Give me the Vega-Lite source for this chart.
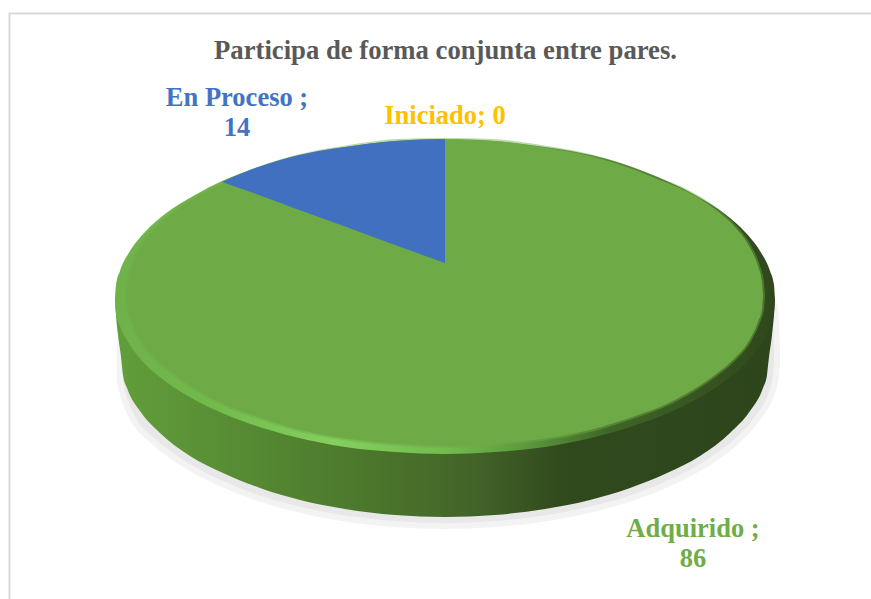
{"$schema":"https://vega.github.io/schema/vega-lite/v6.json","width":871,"height":529,"autosize":{"type":"none"},"padding":{"left":0,"top":70,"right":0,"bottom":0},"background":"#ffffff","view":{"stroke":null},
"title":{"text":"Participa de forma conjunta entre pares.","font":"Liberation Serif","fontSize":26.7,"fontWeight":"bold","color":"#595959","anchor":"middle","dx":10,"offset":-55.5},
"datasets":{
"marco":[{"x":9.5,"y":599,"i":1},{"x":9.5,"y":13.5,"i":2},{"x":871,"y":13.5,"i":3}],
"sombra":[{"x":120,"y":345,"y2":382},{"x":124,"y":305,"y2":398},{"x":133,"y":299,"y2":419},{"x":153,"y":299,"y2":441},{"x":184,"y":299,"y2":464},{"x":218,"y":299,"y2":482},{"x":255,"y":299,"y2":497},{"x":297,"y":299,"y2":509},{"x":342,"y":299,"y2":518},{"x":394,"y":299,"y2":524},{"x":445,"y":299,"y2":526},{"x":496,"y":299,"y2":524},{"x":548,"y":299,"y2":518},{"x":593,"y":299,"y2":509},{"x":635,"y":299,"y2":497},{"x":672,"y":299,"y2":482},{"x":706,"y":299,"y2":464},{"x":737,"y":299,"y2":441},{"x":757,"y":299,"y2":419},{"x":771,"y":299,"y2":395},{"x":775,"y":310,"y2":382},{"x":777,"y":345,"y2":364}],
"lateral":[{"x":115,"y":299,"y2":299},{"x":116,"y":299,"y2":315},{"x":118,"y":299,"y2":335},{"x":121,"y":299,"y2":357},{"x":123,"y":299,"y2":375},{"x":127,"y":299,"y2":388},{"x":140,"y":299,"y2":411},{"x":160,"y":299,"y2":433},{"x":190,"y":299,"y2":456},{"x":223,"y":299,"y2":473},{"x":260,"y":299,"y2":488},{"x":300,"y":299,"y2":500},{"x":345,"y":299,"y2":509},{"x":395,"y":299,"y2":515},{"x":445,"y":299,"y2":517},{"x":495,"y":299,"y2":515},{"x":545,"y":299,"y2":509},{"x":590,"y":299,"y2":500},{"x":630,"y":299,"y2":488},{"x":667,"y":299,"y2":473},{"x":700,"y":299,"y2":456},{"x":730,"y":299,"y2":433},{"x":750,"y":299,"y2":411},{"x":763,"y":299,"y2":388},{"x":767,"y":299,"y2":375},{"x":769,"y":299,"y2":357},{"x":772,"y":299,"y2":335},{"x":774,"y":299,"y2":315},{"x":775,"y":299,"y2":299}],
"borde":[{"x":115,"y":299,"y2":299},{"x":116,"y":285,"y2":313},{"x":120,"y":271,"y2":326},{"x":130,"y":251,"y2":345},{"x":145,"y":232,"y2":364},{"x":165,"y":214,"y2":381},{"x":195,"y":195,"y2":400},{"x":222,"y":181,"y2":413},{"x":245,"y":172,"y2":422},{"x":295,"y":156,"y2":437},{"x":345,"y":147,"y2":447},{"x":395,"y":141,"y2":452},{"x":445,"y":139,"y2":454},{"x":495,"y":141,"y2":452},{"x":545,"y":147,"y2":447},{"x":595,"y":156,"y2":437},{"x":645,"y":172,"y2":422},{"x":695,"y":195,"y2":400},{"x":725,"y":214,"y2":381},{"x":745,"y":232,"y2":364},{"x":760,"y":251,"y2":345},{"x":770,"y":271,"y2":326},{"x":774,"y":285,"y2":313},{"x":775,"y":299,"y2":299}],
"cara":[{"x":127,"y":296,"y2":296},{"x":128,"y":282,"y2":309},{"x":132,"y":266,"y2":322},{"x":141,"y":247,"y2":341},{"x":156,"y":228,"y2":359},{"x":175,"y":211,"y2":375},{"x":204,"y":193,"y2":394},{"x":230,"y":180,"y2":407},{"x":252,"y":171,"y2":415},{"x":300,"y":156,"y2":430},{"x":349,"y":147,"y2":439},{"x":397,"y":141,"y2":444},{"x":445,"y":140,"y2":446},{"x":493,"y":141,"y2":444},{"x":541,"y":147,"y2":439},{"x":590,"y":156,"y2":430},{"x":638,"y":171,"y2":415},{"x":660,"y":180,"y2":407},{"x":686,"y":191,"y2":394},{"x":715,"y":209,"y2":375},{"x":734,"y":226,"y2":359},{"x":749,"y":246,"y2":341},{"x":758,"y":266,"y2":322},{"x":762,"y":282,"y2":309},{"x":763,"y":296,"y2":296}],
"enproceso":[{"x":222,"y":182,"y2":182},{"x":245,"y":172,"y2":190},{"x":295,"y":156,"y2":208.5},{"x":345,"y":147,"y2":226.6},{"x":395,"y":141,"y2":245},{"x":445,"y":139,"y2":263}],
"etiquetas":[{"categoria":"En Proceso","texto":"En Proceso ;","x":237,"y":106},{"categoria":"En Proceso","texto":"14","x":237,"y":136},{"categoria":"Iniciado","texto":"Iniciado; 0","x":445,"y":124},{"categoria":"Adquirido","texto":"Adquirido ;","x":693,"y":537},{"categoria":"Adquirido","texto":"86","x":693,"y":567}]
},
"encoding":{"x":{"field":"x","type":"quantitative","scale":{"domain":[0,871],"nice":false,"zero":false},"axis":null},"y":{"field":"y","type":"quantitative","scale":{"domain":[599,70],"nice":false,"zero":false},"axis":null}},
"layer":[
{"data":{"name":"marco"},"mark":{"type":"line","stroke":"#d9d9d9","strokeWidth":2,"clip":false},"encoding":{"order":{"field":"i"}}},
{"data":{"name":"sombra"},"mark":{"type":"area","interpolate":"monotone","fill":"#e8e8e8","stroke":"#f3f3f3","strokeWidth":6},"encoding":{"y2":{"field":"y2"}}},
{"data":{"name":"lateral"},"mark":{"type":"area","interpolate":"monotone","fill":{"gradient":"linear","x1":0,"y1":0,"x2":1,"y2":0,"stops":[{"offset":0,"color":"#629e3b"},{"offset":0.2,"color":"#568a33"},{"offset":0.4,"color":"#4a752b"},{"offset":0.55,"color":"#426328"},{"offset":0.68,"color":"#30491d"},{"offset":1,"color":"#2e451b"}]}},"encoding":{"y2":{"field":"y2"}}},
{"data":{"name":"borde"},"mark":{"type":"area","interpolate":"monotone","fill":{"gradient":"linear","x1":0,"y1":0,"x2":1,"y2":0,"stops":[{"offset":0,"color":"#70b24a"},{"offset":0.15,"color":"#72ba4c"},{"offset":0.33,"color":"#84d05e"},{"offset":0.5,"color":"#72bc4e"},{"offset":0.62,"color":"#5d9a3e"},{"offset":0.75,"color":"#3f6526"},{"offset":1,"color":"#2f471c"}]}},"encoding":{"y2":{"field":"y2"}}},
{"data":{"name":"cara"},"mark":{"type":"area","interpolate":"monotone","fill":"#6eab47","stroke":"#6eab47","strokeOpacity":0.45,"strokeWidth":4},"encoding":{"y2":{"field":"y2"}}},
{"data":{"name":"enproceso"},"mark":{"type":"area","interpolate":"monotone","fill":"#4070bf"},"encoding":{"y2":{"field":"y2"}}},
{"data":{"name":"etiquetas"},"mark":{"type":"text","font":"Liberation Serif","fontSize":26.5,"fontWeight":"bold","align":"center","baseline":"alphabetic","clip":false},"encoding":{"text":{"field":"texto"},"color":{"field":"categoria","type":"nominal","scale":{"domain":["Adquirido","En Proceso","Iniciado"],"range":["#70ad47","#4472c4","#ffc000"]},"legend":null}}}
]}
